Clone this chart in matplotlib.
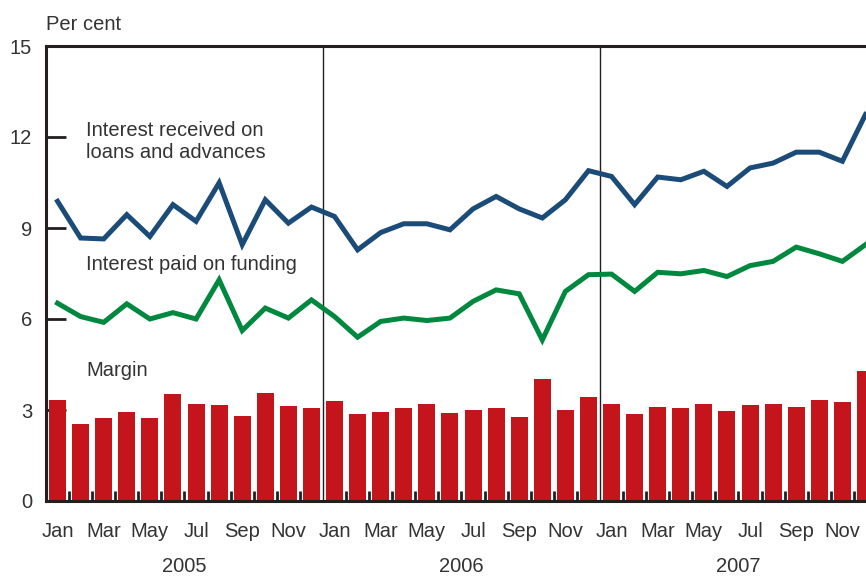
import matplotlib
matplotlib.use("Agg")
import matplotlib.pyplot as plt
import matplotlib.transforms as mtransforms
import numpy as np

plt.rcParams["font.family"] = ["Liberation Sans", "DejaVu Sans"]

months = ["Jan", "Feb", "Mar", "Apr", "May", "Jun", "Jul", "Aug", "Sep", "Oct", "Nov", "Dec"]
years = ["2005", "2006", "2007"]

interest_received = [9.88, 8.67, 8.64, 9.44, 8.72, 9.77, 9.22, 10.49, 8.45, 9.93, 9.16, 9.69,
                     9.38, 8.28, 8.85, 9.14, 9.14, 8.94, 9.63, 10.04, 9.63, 9.33, 9.93, 10.89,
                     10.70, 9.77, 10.68, 10.59, 10.87, 10.37, 10.98, 11.14, 11.50, 11.50, 11.20, 12.74]
interest_paid = [6.52, 6.08, 5.89, 6.50, 6.00, 6.21, 6.00, 7.29, 5.62, 6.36, 6.03, 6.63,
                 6.08, 5.40, 5.92, 6.03, 5.95, 6.03, 6.58, 6.96, 6.83, 5.31, 6.91, 7.46,
                 7.48, 6.91, 7.54, 7.49, 7.60, 7.40, 7.76, 7.90, 8.37, 8.15, 7.90, 8.45]
margin = [3.33, 2.54, 2.74, 2.94, 2.74, 3.53, 3.20, 3.17, 2.81, 3.56, 3.14, 3.07,
          3.30, 2.87, 2.94, 3.07, 3.20, 2.90, 3.00, 3.07, 2.77, 4.03, 3.00, 3.43,
          3.20, 2.87, 3.10, 3.07, 3.20, 2.97, 3.17, 3.20, 3.10, 3.33, 3.27, 4.29]
yticks = [0, 3, 6, 9, 12, 15]

BLUE = "#1b4b78"
GREEN = "#00883e"
RED = "#c4141c"
TXT = "#333333"
AX = "#231f20"
FS = 14.5

W, H = 866, 576
fig = plt.figure(figsize=(W / 100, H / 100), dpi=100)
left, right, top, bottom = 46, 877, 46, 501
ax = fig.add_axes([left / W, (H - bottom) / H, (right - left) / W, (bottom - top) / H])

n = len(margin)
x = np.arange(n)
ax.bar(x, margin, width=0.74, color=RED, zorder=2)
ax.plot(x, interest_received, color=BLUE, lw=3.6, zorder=4, solid_joinstyle="miter")
ax.plot(x, interest_paid, color=GREEN, lw=3.6, zorder=4, solid_joinstyle="miter")

for b in (11.5, 23.5):
    ax.axvline(b, color=AX, lw=1.0, zorder=3)

ax.set_xlim(-0.5, n - 0.5)
ax.set_ylim(0, 15)

for s in ("top", "left", "bottom"):
    ax.spines[s].set_linewidth(2.2)
    ax.spines[s].set_color(AX)
ax.spines["right"].set_visible(False)

ax.set_yticks(yticks)
ax.set_yticklabels([str(v) for v in yticks])
ax.tick_params(axis="y", direction="in", length=14.5, width=2, color=AX,
               labelsize=FS, labelcolor=TXT, pad=10)

major = list(range(0, n, 2))
ax.set_xticks(major)
ax.set_xticklabels([months[i % 12] for i in major])
ax.tick_params(axis="x", which="major", length=0, labelsize=FS, labelcolor=TXT, pad=15)
minor = [i + 0.5 for i in range(n - 1) if (i + 1) % 12 != 0]
ax.set_xticks(minor, minor=True)
ax.tick_params(axis="x", which="minor", direction="in", length=7.5, width=2, color=AX)

trans = mtransforms.blended_transform_factory(ax.transData, fig.transFigure)
for k, yr in enumerate(years):
    ax.text(12 * k + 5.5, (H - 566) / H, yr, transform=trans, ha="center", va="center",
            fontsize=FS, color=TXT)

fig.text(left / W, (H - 24) / H, "Per cent", ha="left", va="center", fontsize=FS, color=TXT)

def label(px, py, s):
    fig.text(px / W, (H - py) / H, s, ha="left", va="center", fontsize=FS, color=TXT,
             linespacing=1.2)

label(86, 142, "Interest received on\nloans and advances")
label(86, 265, "Interest paid on funding")
label(86, 371, "Margin")

fig.savefig("out.png", dpi=100)
